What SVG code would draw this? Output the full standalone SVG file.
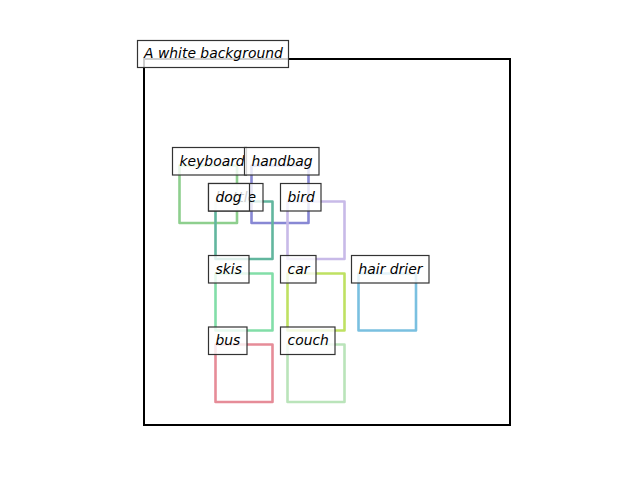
<svg xmlns="http://www.w3.org/2000/svg" width="640" height="480" viewBox="0 0 640 480">
<style>
.bb{fill:none;stroke-width:2.6;stroke-linejoin:round}
.lb{fill:#ffffff;fill-opacity:0.8;stroke:#333333;stroke-width:1.2}
.tx{font-family:"DejaVu Sans",sans-serif;font-style:italic;font-size:13.9px;fill:#000}
</style>
<rect x="0" y="0" width="640" height="480" fill="#ffffff"/>
<g id="frame"><rect x="144" y="59" width="366" height="366" fill="none" stroke="#000" stroke-width="2"/></g>
<g id="title"><rect class="lb" x="137.5" y="40.5" width="151" height="27"/><text class="tx" x="144" y="58">A white background</text></g>
<g id="connectors"></g>
<g id="keyboard"><rect class="bb" x="179.5" y="165.5" width="57.5" height="57.5" stroke="#8ecf8e"/><rect class="lb" x="172.5" y="147.5" width="74" height="27.5"/><text class="tx" x="179.5" y="165.5">keyboard</text></g>
<g id="handbag"><rect class="bb" x="251.5" y="165.5" width="57" height="57.5" stroke="#8888d4"/><rect class="lb" x="244.5" y="147.5" width="74.5" height="27.5"/><text class="tx" x="251.5" y="165.5">handbag</text></g>
<g id="bottle"><rect class="bb" x="215.5" y="201.5" width="57" height="57.5" stroke="#62b69e"/><rect class="lb" x="208.5" y="183.5" width="54.5" height="27.5"/><text class="tx" x="215.5" y="201.5">bottle</text></g>
<g id="dog"><rect class="lb" x="208.5" y="183.5" width="41" height="27.5"/><text class="tx" x="215.5" y="201.5">dog</text></g>
<g id="bird"><rect class="bb" x="287.5" y="201.5" width="57" height="57.5" stroke="#c8bae8"/><rect class="lb" x="280.5" y="183.5" width="40.5" height="27.5"/><text class="tx" x="287.5" y="201.5">bird</text></g>
<g id="skis"><rect class="bb" x="215.5" y="273.5" width="57" height="57" stroke="#82dea8"/><rect class="lb" x="208.5" y="255.5" width="40.5" height="27.5"/><text class="tx" x="215.5" y="273.5">skis</text></g>
<g id="car"><rect class="bb" x="287.5" y="273.5" width="57" height="57" stroke="#bfe162"/><rect class="lb" x="280.5" y="255.5" width="35.5" height="27.5"/><text class="tx" x="287.5" y="273.5">car</text></g>
<g id="hair_drier"><rect class="bb" x="358.5" y="273.5" width="57.5" height="57" stroke="#7ac0e0"/><rect class="lb" x="351.5" y="255.5" width="77.5" height="27.5"/><text class="tx" x="358.5" y="273.5">hair drier</text></g>
<g id="bus"><rect class="bb" x="215.5" y="344.5" width="57" height="57.5" stroke="#e68c98"/><rect class="lb" x="208.5" y="327" width="38.5" height="27.5"/><text class="tx" x="215.5" y="345">bus</text></g>
<g id="couch"><rect class="bb" x="287.5" y="344.5" width="57" height="57.5" stroke="#bae4ba"/><rect class="lb" x="280.5" y="327" width="54.5" height="27.5"/><text class="tx" x="287.5" y="345">couch</text></g>
</svg>
